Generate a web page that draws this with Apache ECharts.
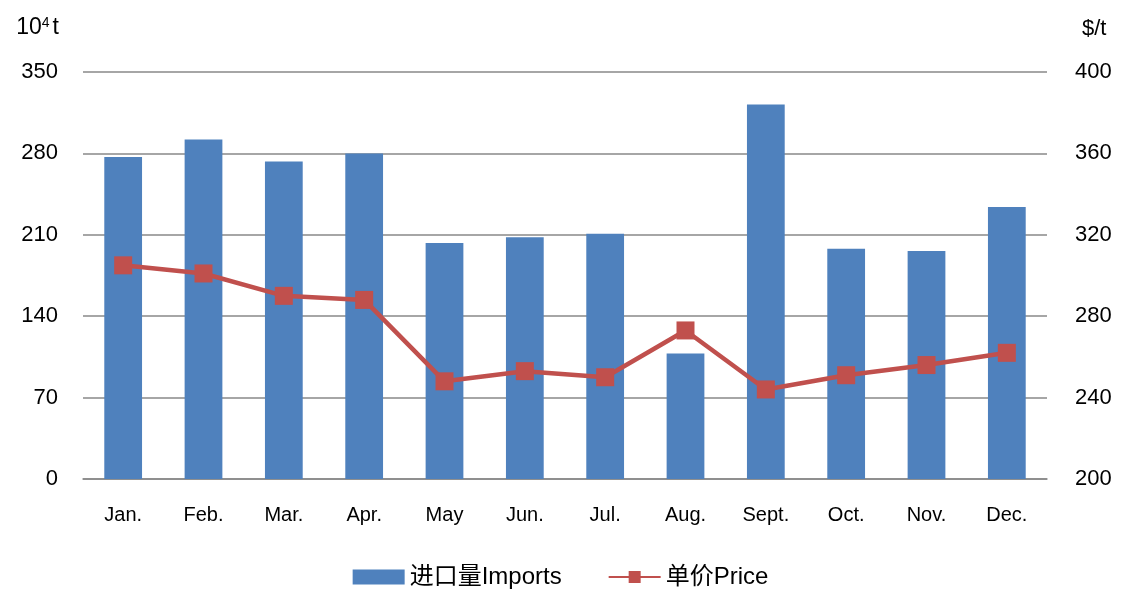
<!DOCTYPE html>
<html>
<head>
<meta charset="utf-8">
<script src="https://cdn.jsdelivr.net/npm/echarts@6/dist/echarts.min.js"></script>
<style>
  html, body { margin: 0; padding: 0; background: #fff; }
  #chart { width: 1121px; height: 590px; }
</style>
</head>
<body>
<div id="chart"></div>
<script>
  const months = ['Jan.', 'Feb.', 'Mar.', 'Apr.', 'May', 'Jun.', 'Jul.', 'Aug.', 'Sept.', 'Oct.', 'Nov.', 'Dec.'];
  // 进口量 (10^4 t)
  const imports = [277, 292, 273, 280, 203, 208, 211, 108, 322, 198, 196, 234];
  // 单价 ($/t)
  const price = [305, 301, 290, 288, 248, 253, 250, 273, 244, 251, 256, 262];

  const FONT = '"Liberation Sans", Arial, sans-serif';
  const chart = echarts.init(document.getElementById('chart'));

  const option = {
    backgroundColor: '#fff',
    textStyle: { fontFamily: FONT },
    grid: { left: 83, right: 74, top: 72, bottom: 111 },
    legend: {
      top: 560,
      left: 'center',
      itemGap: 46,
      itemWidth: 52,
      itemHeight: 15,
      textStyle: { fontSize: 24, color: '#000', fontFamily: '"Liberation Sans", "Noto Sans CJK SC", sans-serif' },
      data: [
        { name: '进口量Imports', icon: 'rect' },
        { name: '单价Price' }
      ]
    },
    xAxis: {
      type: 'category',
      data: months,
      axisLine: { lineStyle: { color: '#888', width: 1.5 } },
      axisTick: { show: false },
      axisLabel: { fontSize: 20, color: '#000', margin: 26 }
    },
    yAxis: [
      {
        type: 'value',
        min: 0, max: 350, interval: 70,
        name: '{n|10}{s|4}{n|t}',
        nameLocation: 'end',
        nameGap: 32,
        nameTextStyle: {
          align: 'right',
          padding: [0, 24, 0, 0],
          rich: {
            n: { fontSize: 23, color: '#000', fontFamily: FONT },
            s: { fontSize: 14, color: '#000', fontFamily: FONT, verticalAlign: 'top', padding: [0, 3, 10, 0] }
          }
        },
        axisLine: { show: false },
        axisTick: { show: false },
        axisLabel: { fontSize: 22, color: '#000', margin: 25 },
        splitLine: { lineStyle: { color: '#888', width: 1.5 } }
      },
      {
        type: 'value',
        min: 200, max: 400, interval: 40,
        name: '$/t',
        nameLocation: 'end',
        nameGap: 32,
        nameTextStyle: { fontSize: 22, color: '#000', align: 'left', padding: [0, 0, 0, 35] },
        axisLine: { show: false },
        axisTick: { show: false },
        axisLabel: { fontSize: 22, color: '#000', margin: 28 },
        splitLine: { show: false }
      }
    ],
    series: [
      {
        name: '进口量Imports',
        type: 'bar',
        data: imports,
        barWidth: '47%',
        itemStyle: { color: '#4F81BD' }
      },
      {
        name: '单价Price',
        type: 'line',
        yAxisIndex: 1,
        data: price,
        symbol: 'rect',
        symbolSize: 18,
        lineStyle: { color: '#C0504D', width: 4.5 },
        itemStyle: { color: '#C0504D' }
      }
    ]
  };

  chart.setOption(option);
</script>
</body>
</html>
